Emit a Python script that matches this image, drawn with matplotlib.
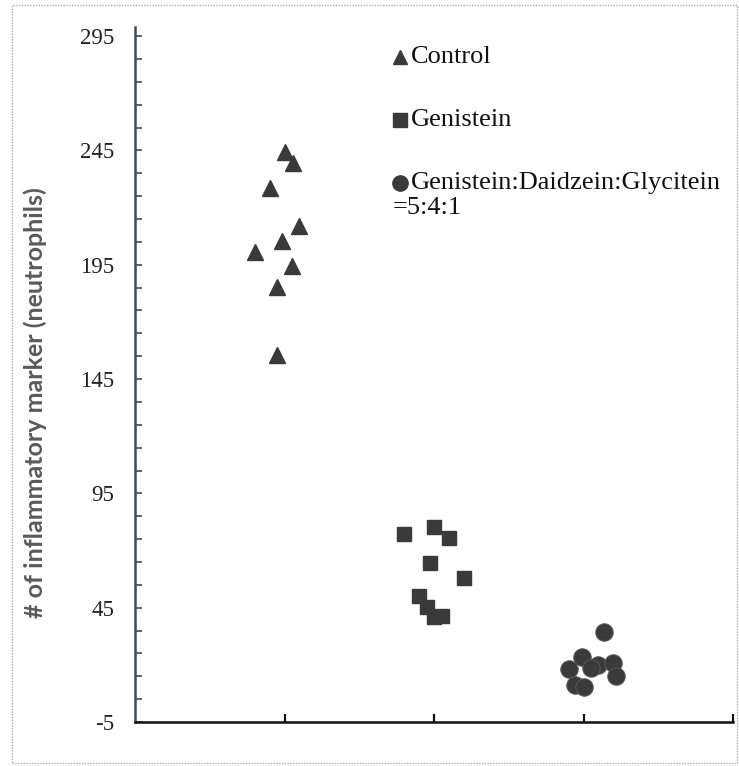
import matplotlib

matplotlib.use("Agg")
import matplotlib.pyplot as plt
from matplotlib.patches import Rectangle

plt.rcParams["axes.unicode_minus"] = False

# values
control_x = [1.00, 1.055, 0.90, 1.10, 0.98, 0.80, 1.05, 0.95, 0.95]
control_y = [244.4, 239.6, 228.4, 211.9, 205.4, 200.4, 194.4, 185.4, 155.5]

genistein_x = [1.80, 2.00, 2.10, 1.97, 2.20, 1.90, 1.95, 2.00, 2.055]
genistein_y = [77.1, 80.2, 75.4, 64.4, 58.2, 50.3, 45.5, 41.1, 41.4]

mix_x = [3.14, 2.99, 3.10, 3.20, 3.05, 2.90, 3.22, 2.94, 3.00]
mix_y = [34.3, 23.6, 20.0, 20.7, 18.5, 18.1, 15.3, 11.2, 10.5]

y_ticks = [-5, 45, 95, 145, 195, 245, 295]
x_ticks = [1, 2, 3, 4]
labels = ["Control", "Genistein", "Genistein:Daidzein:Glycitein"]

W, H = 739, 766
fig = plt.figure(figsize=(W / 100, H / 100), dpi=100)
ax = fig.add_axes([135 / W, 44 / H, 598 / W, 695 / H])

dark = "#3a3a3a"
ax.plot(control_x, control_y, "^", ms=12, color=dark, mec=dark, ls="none")
ax.plot(genistein_x, genistein_y, "s", ms=10.5, color=dark, mec=dark, ls="none")
ax.plot(mix_x, mix_y, "o", ms=12.5, color=dark, mec="#555555", mew=0.8, ls="none")

ax.set_xlim(0, 4)
ax.set_ylim(-5, 299)
ax.set_xticks(x_ticks)
ax.set_xticklabels([])
ax.set_yticks(y_ticks)
ax.set_yticks(range(5, 296, 10), minor=True)

for s in ["top", "right"]:
    ax.spines[s].set_visible(False)
ax.spines["left"].set_color("#3d4b5c")
ax.spines["left"].set_linewidth(1.8)
ax.spines["bottom"].set_color("#111111")
ax.spines["bottom"].set_linewidth(1.8)

ax.tick_params(axis="y", which="both", direction="in", length=5, width=1.2,
               color="#3d4b5c", labelsize=16.5, labelcolor="#222222", pad=15)
ax.tick_params(axis="x", direction="in", length=6, width=1.6, color="#111111")
for t in ax.get_yticklabels():
    t.set_family("Liberation Serif")

fig.text(35 / W, 1 - 403 / H, "# of inflammatory marker (neutrophils)", family="Lato",
         fontweight="bold", fontsize=18, color="#5a5a5a", rotation=90,
         ha="center", va="center")

# legend
markers = ["^", "s", "o"]
sizes = [10, 9.5, 11]
rows = [57, 120, 183]
for m, sz, r, lab in zip(markers, sizes, rows, labels):
    ya = (H - r - 44) / 695
    ax.plot([(400 - 135) / 598], [ya], m, ms=sz, color=dark,
            transform=ax.transAxes, clip_on=False)
    ax.text((411 - 135) / 598, ya, lab, transform=ax.transAxes,
            family="Liberation Serif", fontsize=19, color="#111111", va="center")
ax.text((393 - 135) / 598, (H - 208 - 44) / 695, "=5:4:1", transform=ax.transAxes,
        family="Liberation Serif", fontsize=19, color="#111111", va="center")

# dotted frame around the picture
fig.patches.append(Rectangle((12 / W, 3 / H), 725 / W, 758 / H, transform=fig.transFigure,
                             fill=False, ls=(0, (1, 1)), lw=1, ec="#aaaaaa"))

fig.savefig("out.png", dpi=100)
